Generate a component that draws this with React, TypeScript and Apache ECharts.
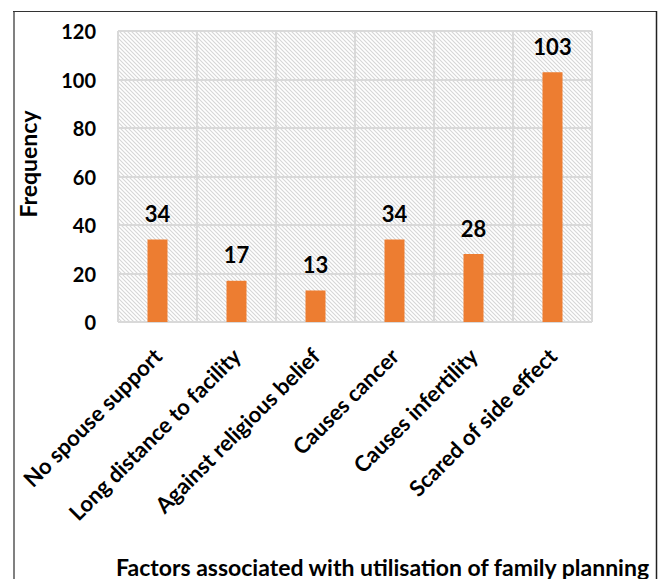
import React, { useEffect, useRef } from "react";
import * as echarts from "echarts";

const categories = [
  "No spouse support",
  "Long distance to facility",
  "Against religious belief",
  "Causes cancer",
  "Causes infertility",
  "Scared of side effect",
];
const frequencies = [34, 17, 13, 34, 28, 103];
const yTicks = { min: 0, max: 120, interval: 20 };
const xTitle = "Factors associated with utilisation of family planning";
const yTitle = "Frequency";

const FONT = "Lato, 'Open Sans', sans-serif";

const hatchSvg =
  '<svg xmlns="http://www.w3.org/2000/svg" width="4" height="4">' +
  '<rect width="4" height="4" fill="#ffffff"/>' +
  '<path d="M-1,-1 L5,5 M-1,3 L1,5 M3,-1 L5,1" stroke="#d6d6d6" stroke-width="1.1"/>' +
  "</svg>";
const hatchUrl = "data:image/svg+xml;charset=utf-8," + encodeURIComponent(hatchSvg);

export default function App() {
  const ref = useRef<HTMLDivElement>(null);
  useEffect(() => {
    if (!ref.current) return;
    const chart = echarts.init(ref.current, null, { renderer: "svg" });
    chart.setOption({
      animation: false,
      backgroundColor: "#ffffff",
      title: {
        text: xTitle,
        left: 116,
        top: 555,
        padding: 0,
        textStyle: { fontFamily: FONT, fontWeight: "bold", fontSize: 23, color: "#000" },
      },
      grid: {
        left: 118,
        top: 31,
        width: 474,
        height: 291,
        show: true,
        borderWidth: 0,
        backgroundColor: {
          image: hatchUrl,
          repeat: "repeat",
          imageWidth: 4,
          imageHeight: 4,
        } as any,
      },
      xAxis: {
        type: "category",
        data: categories,
        axisLine: { show: false },
        axisTick: { show: false },
        splitLine: { show: true, lineStyle: { color: "#d9d9d9", width: 2 } },
        axisLabel: {
          interval: 0,
          rotate: 45,
          margin: 30,
          fontFamily: FONT,
          fontWeight: "bold",
          fontSize: 22,
          color: "#000",
        },
      },
      yAxis: {
        type: "value",
        min: yTicks.min,
        max: yTicks.max,
        interval: yTicks.interval,
        axisLine: { show: false },
        axisTick: { show: false },
        splitLine: { show: true, lineStyle: { color: "#d9d9d9", width: 2 } },
        axisLabel: {
          margin: 22,
          fontFamily: FONT,
          fontWeight: "bold",
          fontSize: 20,
          color: "#000",
        },
      },
      series: [
        {
          type: "bar",
          data: frequencies,
          barWidth: 20,
          itemStyle: { color: "#ED7D31" },
          label: {
            show: true,
            position: "top",
            distance: 15,
            fontFamily: FONT,
            fontWeight: "bold",
            fontSize: 22,
            color: "#000",
          },
        },
      ],
      graphic: [
        {
          type: "text",
          x: 28,
          y: 164,
          rotation: Math.PI / 2,
          style: {
            text: yTitle,
            fontFamily: FONT,
            fontWeight: "bold",
            fontSize: 23,
            fill: "#000",
            align: "center",
            verticalAlign: "middle",
            textAlign: "center",
            textVerticalAlign: "middle",
          },
        },
        {
          type: "line",
          shape: { x1: 14, y1: 11, x2: 14, y2: 579 },
          style: { stroke: "#808080", lineWidth: 2 },
        },
        {
          type: "line",
          shape: { x1: 13, y1: 11.5, x2: 657, y2: 11.5 },
          style: { stroke: "#333333", lineWidth: 1 },
        },
        {
          type: "line",
          shape: { x1: 656.5, y1: 11, x2: 656.5, y2: 579 },
          style: { stroke: "#222222", lineWidth: 1.5 },
        },
      ],
    });
    return () => chart.dispose();
  }, []);
  return (
    <div
      ref={ref}
      style={{ position: "absolute", left: 0, top: 0, width: 659, height: 579 }}
    />
  );
}
